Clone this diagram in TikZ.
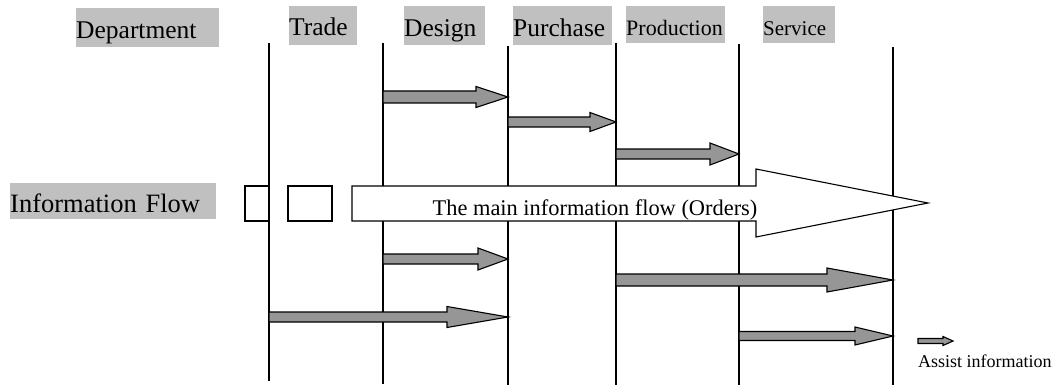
\documentclass[tikz,border=0pt]{standalone}
\usepackage{fontspec}
\setmainfont{Liberation Serif}
\definecolor{labelgrey}{HTML}{C0C0C0}
\definecolor{arrowgrey}{HTML}{969696}
\tikzset{
  lane/.style={draw=black, line width=1.2pt},
  heading/.style={fill=labelgrey, inner sep=0pt, anchor=north west, align=left,
                  font=\fontsize{25.5}{28}\selectfont},
  flowbox/.style={draw=black, fill=white, line width=1.1pt},
  assist/.style={draw=black, fill=arrowgrey, line width=1.1pt, line join=miter},
}
% grey block arrow from one lane to another:
% #1 start lane, #2 end lane, #3 centre y, #4 head start x, #5 half shaft, #6 half head
\newcommand\assistarrow[6]{%
  \pgfmathsetmacro\aaTop{#3-#5}\pgfmathsetmacro\aaBot{#3+#5}%
  \pgfmathsetmacro\aaHTop{#3-#6}\pgfmathsetmacro\aaHBot{#3+#6}%
  \draw[assist] (#1 |- 0,\aaTop) -- (#4,\aaTop) -- (#4,\aaHTop) -- (#2 |- 0,#3)
    -- (#4,\aaHBot) -- (#4,\aaBot) -- (#1 |- 0,\aaBot) -- cycle;}
\begin{document}
\begin{tikzpicture}[x=1pt, y=-1pt]
\useasboundingbox (0,0) rectangle (1056,385);

% lane separators
\coordinate (tradeL) at (269,43);
\coordinate (designL) at (383,43);
\coordinate (purchaseL) at (508,46);
\coordinate (productionL) at (616,43);
\coordinate (serviceL) at (739,44);
\coordinate (endL) at (893,47);
\foreach \l/\b in {tradeL/381, designL/384, purchaseL/385, productionL/385, serviceL/385, endL/385}
  \draw[lane] (\l) -- (\l |- 0,\b);

% headings (box top-left corner; text height = baseline offset)
\node[heading, text width=143pt, text height=30pt, text depth=9pt] (hDept) at (76,8) {Department};
\node[heading, text width=68pt, text height=29pt, text depth=10pt] (hTrade) at (289,6) {Trade};
\node[heading, text width=81pt, text height=30pt, text depth=9pt] (hDesign) at (404,6) {Design};
\node[heading, text width=99pt, text height=30pt, text depth=9pt] (hPurchase) at (513,6) {Purchase};
\node[heading, text width=99pt, text height=29pt, text depth=8pt, font=\fontsize{22}{26}\selectfont] (hProduction) at (626,6) {Production};
\node[heading, text width=72pt, text height=29pt, text depth=8pt, font=\fontsize{21}{26}\selectfont] (hService) at (763,6) {Service};
\node[heading, text width=206pt, text height=29pt, text depth=7pt, font=\fontsize{26.5}{30}\selectfont] (hInfo) at (10,183) {Information Flow};

% main information flow
\draw[flowbox] (245,186) rectangle (269,221);
\draw[flowbox] (288,186) rectangle (332,221);
\draw[flowbox, line join=miter] (352,186) -- (756,186) -- (756,169) -- (928,203)
  -- (756,237) -- (756,221) -- (352,221) -- cycle;
\node[font=\fontsize{22.4}{26}\selectfont, inner sep=0pt, anchor=base] (mainflow) at (595,215)
  {The main information flow (Orders)};

% assist information arrows
\assistarrow{designL}{purchaseL}{97}{476}{6}{10.5}
\assistarrow{purchaseL}{productionL}{122}{590}{5}{9.5}
\assistarrow{productionL}{serviceL}{154}{710}{5}{11}
\assistarrow{designL}{purchaseL}{259}{478}{5}{11}
\assistarrow{tradeL}{purchaseL}{317}{447}{5}{10.5}
\assistarrow{productionL}{endL}{280}{827}{6}{12}
\assistarrow{serviceL}{endL}{336}{855}{4.5}{9}

% legend
\coordinate (legA) at (918,341);
\coordinate (legB) at (953,341);
\assistarrow{legA}{legB}{341}{943}{2.5}{4.5}
\node[font=\fontsize{18}{20}\selectfont, inner sep=0pt, anchor=base west] (legText) at (918,367) {Assist information};
\end{tikzpicture}
\end{document}
